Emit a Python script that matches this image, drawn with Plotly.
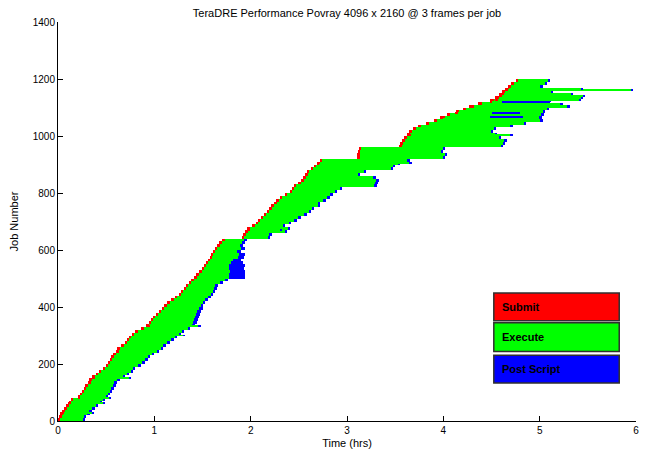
import plotly.graph_objects as go

# ---- data (hours), jobs grouped in blocks of 10 jobs ----
block_first_job = list(range(0, 1200, 10))

submit_hr = [
    0.00, 0.02, 0.03, 0.05, 0.07, 0.09, 0.11, 0.14, 0.21, 0.23,
    0.25, 0.27, 0.29, 0.31, 0.33, 0.36, 0.39, 0.43, 0.47, 0.50,
    0.52, 0.54, 0.56, 0.58, 0.60, 0.62, 0.66, 0.70, 0.72, 0.74,
    0.77, 0.80, 0.87, 0.92, 0.95, 0.97, 0.99, 1.02, 1.05, 1.08,
    1.11, 1.14, 1.18, 1.22, 1.26, 1.28, 1.31, 1.33, 1.36, 1.39,
    1.42, 1.44, 1.47, 1.50, 1.52, 1.54, 1.56, 1.58, 1.59, 1.61,
    1.63, 1.66, 1.68, 1.71, 1.91, 1.93, 1.95, 1.97, 2.02, 2.06,
    2.08, 2.11, 2.14, 2.17, 2.20, 2.22, 2.25, 2.27, 2.31, 2.36,
    2.41, 2.43, 2.45, 2.50, 2.53, 2.55, 2.57, 2.59, 2.63, 2.66,
    2.69, 2.72, 3.11, 3.11, 3.12, 3.13, 3.55, 3.56, 3.58, 3.60,
    3.63, 3.65, 3.69, 3.74, 3.82, 3.90, 3.97, 4.04, 4.13, 4.20,
    4.27, 4.36, 4.48, 4.54, 4.58, 4.61, 4.64, 4.67, 4.70, 4.75,
]

queue_hr = [
    0.02, 0.02, 0.02, 0.02, 0.02, 0.02, 0.03, 0.02, 0.02, 0.02,
    0.02, 0.02, 0.02, 0.03, 0.02, 0.02, 0.03, 0.02, 0.02, 0.02,
    0.02, 0.02, 0.02, 0.02, 0.03, 0.02, 0.02, 0.02, 0.02, 0.02,
    0.02, 0.03, 0.02, 0.02, 0.02, 0.02, 0.02, 0.02, 0.02, 0.02,
    0.02, 0.02, 0.02, 0.02, 0.02, 0.02, 0.02, 0.02, 0.02, 0.02,
    0.02, 0.02, 0.02, 0.02, 0.02, 0.02, 0.02, 0.02, 0.02, 0.02,
    0.02, 0.02, 0.02, 0.02, 0.02, 0.02, 0.02, 0.02, 0.02, 0.02,
    0.02, 0.02, 0.02, 0.02, 0.02, 0.02, 0.02, 0.02, 0.02, 0.02,
    0.02, 0.02, 0.02, 0.02, 0.02, 0.02, 0.02, 0.02, 0.02, 0.02,
    0.02, 0.02, 0.02, 0.02, 0.02, 0.02, 0.02, 0.02, 0.02, 0.02,
    0.02, 0.02, 0.03, 0.03, 0.03, 0.03, 0.03, 0.03, 0.03, 0.04,
    0.05, 0.04, 0.05, 0.04, 0.03, 0.03, 0.03, 0.03, 0.03, 0.03,
]

exec_end_hr = [
    0.26, 0.28, 0.31, 0.33, 0.36, 0.40, 0.44, 0.47, 0.50, 0.52,
    0.54, 0.56, 0.58, 0.59, 0.62, 0.68, 0.72, 0.76, 0.78, 0.84,
    0.88, 0.91, 0.94, 0.98, 1.03, 1.07, 1.10, 1.14, 1.18, 1.22,
    1.26, 1.29, 1.35, 1.39, 1.40, 1.41, 1.42, 1.43, 1.44, 1.46,
    1.48, 1.50, 1.53, 1.56, 1.59, 1.61, 1.62, 1.64, 1.68, 1.73,
    1.78, 1.77, 1.79, 1.78, 1.77, 1.80, 1.82, 1.87, 1.88, 1.86,
    1.90, 1.89, 1.92, 1.94, 2.18, 2.20, 2.36, 2.39, 2.34, 2.40,
    2.46, 2.50, 2.56, 2.61, 2.64, 2.70, 2.70, 2.76, 2.80, 2.83,
    2.88, 2.93, 3.29, 3.30, 3.31, 3.28, 3.12, 3.18, 3.46, 3.48,
    3.53, 3.63, 4.00, 4.02, 3.98, 4.00, 4.60, 4.62, 4.64, 4.58,
    4.54, 4.50, 4.53, 4.70, 4.84, 5.01, 5.00, 5.02, 5.04, 5.08,
    5.29, 5.04, 5.10, 5.11, 5.13, 5.12, 5.10, 5.01, 5.06, 5.09,
]

post_end_hr = [
    0.28, 0.29, 0.33, 0.35, 0.38, 0.42, 0.46, 0.49, 0.52, 0.54,
    0.56, 0.58, 0.60, 0.61, 0.64, 0.70, 0.74, 0.78, 0.80, 0.86,
    0.90, 0.93, 0.96, 1.00, 1.05, 1.09, 1.12, 1.16, 1.20, 1.24,
    1.28, 1.31, 1.37, 1.42, 1.44, 1.45, 1.46, 1.47, 1.48, 1.50,
    1.51, 1.53, 1.56, 1.59, 1.61, 1.63, 1.65, 1.66, 1.71, 1.76,
    1.94, 1.94, 1.94, 1.93, 1.94, 1.92, 1.90, 1.93, 1.94, 1.90,
    1.94, 1.92, 1.94, 1.96, 2.20, 2.22, 2.38, 2.41, 2.36, 2.42,
    2.48, 2.52, 2.58, 2.63, 2.66, 2.72, 2.72, 2.78, 2.82, 2.85,
    2.90, 2.95, 3.31, 3.32, 3.33, 3.30, 3.14, 3.20, 3.48, 3.50,
    3.55, 3.65, 4.02, 4.04, 4.00, 4.02, 4.62, 4.64, 4.66, 4.60,
    4.56, 4.52, 4.55, 4.72, 4.86, 5.03, 5.02, 5.04, 5.06, 5.10,
    5.31, 5.06, 5.12, 5.13, 5.15, 5.14, 5.12, 5.03, 5.08, 5.11,
]

# individual jobs that stick out as thin lines
straggler_job = [28, 63, 80, 150, 300, 335, 670, 905, 1005, 1068, 1081, 1113, 1118, 1128, 1133, 1142, 1147, 1161, 1166]
straggler_submit = [0.04, 0.11, 0.21, 0.36, 0.77, 0.93, 1.97, 2.70, 3.64, 4.00, 4.13, 4.36, 4.48, 4.54, 4.55, 4.58, 4.60, 4.64, 4.65]
straggler_exec_start = [0.06, 0.13, 0.23, 0.38, 0.79, 0.95, 1.99, 2.72, 3.66, 4.02, 4.15, 4.40, 4.51, 4.57, 4.58, 4.61, 4.63, 4.67, 4.68]
straggler_exec_end = [0.36, 0.47, 0.53, 0.74, 1.30, 1.46, 2.31, 3.65, 4.70, 4.48, 4.50, 5.22, 4.61, 5.41, 5.43, 5.45, 5.33, 5.95, 5.43]
straggler_post_end = [0.37, 0.49, 0.55, 0.76, 1.31, 1.48, 2.33, 3.67, 4.72, 4.83, 4.80, 5.24, 5.11, 5.43, 5.45, 5.47, 5.35, 5.97, 5.45]

legend_labels = ["Submit", "Execute", "Post Script"]
colors = ["#ff0000", "#00ff00", "#0000ff"]

BLOCK = 10
y_mid = [j + BLOCK / 2 for j in block_first_job]

fig = go.Figure()

exec_start = [s + q for s, q in zip(submit_hr, queue_hr)]
seg_bounds = [(submit_hr, exec_start), (exec_start, exec_end_hr), (exec_end_hr, post_end_hr)]
for (lo, hi), col, name in zip(seg_bounds, colors, legend_labels):
    fig.add_trace(go.Bar(
        orientation="h", y=y_mid, base=lo, x=[h - l for l, h in zip(lo, hi)],
        width=BLOCK, marker=dict(color=col, line=dict(width=0)),
        name=name, showlegend=False, hoverinfo="skip",
    ))

s_bounds = [
    (straggler_submit, straggler_exec_start),
    (straggler_exec_start, straggler_exec_end),
    (straggler_exec_end, straggler_post_end),
]
for (lo, hi), col, name in zip(s_bounds, colors, legend_labels):
    fig.add_trace(go.Bar(
        orientation="h", y=straggler_job, base=lo, x=[h - l for l, h in zip(lo, hi)],
        width=3.5, marker=dict(color=col, line=dict(width=0)),
        name=name, showlegend=False, hoverinfo="skip",
    ))

# MATLAB-style boxed legend
box_x0, box_x1 = 0.754, 0.971
box_y = [(0.251, 0.321), (0.174, 0.246), (0.095, 0.165)]
for (y0, y1), col, name in zip(box_y, colors, legend_labels):
    fig.add_shape(type="rect", xref="paper", yref="paper", x0=box_x0, x1=box_x1, y0=y0, y1=y1,
                  fillcolor=col, line=dict(color="#303030", width=1.5), layer="above")
    fig.add_annotation(xref="paper", yref="paper", x=box_x0 + 0.011, y=(y0 + y1) / 2,
                       text="<b>%s</b>" % name, showarrow=False, xanchor="left", yanchor="middle",
                       font=dict(family="Liberation Sans, Arial", size=11, color="black"))

# the page body has an 8px default margin, so the figure is sized/offset to compensate
W, H = 639, 444
fig.update_layout(
    width=W, height=H,
    margin=dict(l=50, r=11, t=14, b=31, autoexpand=False),
    paper_bgcolor="white", plot_bgcolor="white",
    barmode="overlay", bargap=0,
    title=dict(text="TeraDRE Performance Povray 4096 x 2160 @ 3 frames per job",
               xref="paper", x=0.5, xanchor="center",
               yref="container", y=1 - 5.5 / H, yanchor="middle", pad=dict(t=0, b=0),
               font=dict(family="Liberation Sans, Arial", size=11, color="black")),
    font=dict(family="Liberation Sans, Arial", size=10, color="black"),
    xaxis=dict(range=[0, 6], tickvals=[0, 1, 2, 3, 4, 5, 6], ticks="inside", ticklen=5,
               tickcolor="black", showline=True, linecolor="black", linewidth=1,
               showgrid=False, zeroline=False, mirror=False, automargin=False,
               ticklabeloverflow="allow",
               title=dict(text="Time (hrs)", standoff=4, font=dict(size=11))),
    yaxis=dict(range=[0, 1400], tickvals=list(range(0, 1401, 200)), ticks="inside", ticklen=5,
               tickcolor="black", showline=True, linecolor="black", linewidth=1,
               showgrid=False, zeroline=False, mirror=False, automargin=False,
               ticklabeloverflow="allow",
               title=dict(text="Job Number", standoff=14, font=dict(size=11))),
)

fig.write_html("out.html")
